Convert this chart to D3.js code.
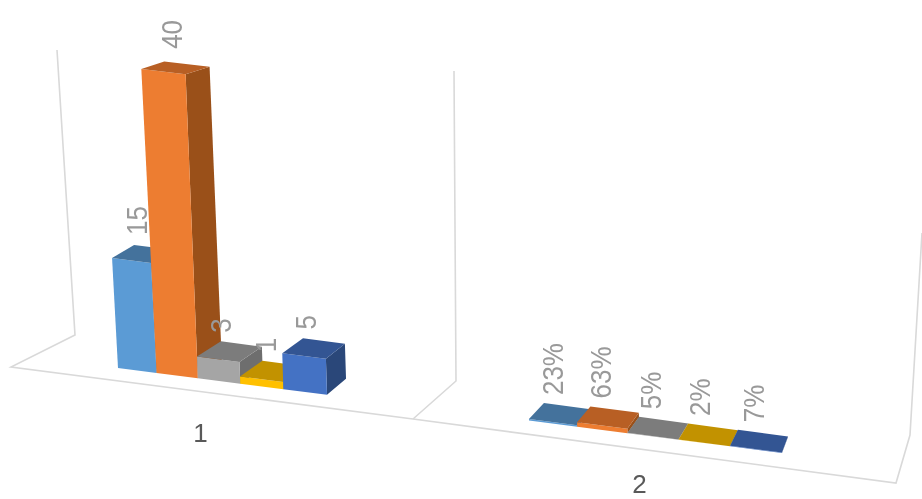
<!DOCTYPE html>
<html>
<head>
<meta charset="utf-8">
<script src="https://cdnjs.cloudflare.com/ajax/libs/d3/7.8.5/d3.min.js"></script>
<style>
html,body{margin:0;padding:0;background:#fff;overflow:hidden}
svg{display:block;filter:blur(0.45px)}
text{font-family:"Liberation Sans",Arial,sans-serif}
</style>
</head>
<body>
<svg id="chart" width="922" height="499"></svg>
<script>
// ---- data ----
const categories = ["1", "2"];
const seriesIndex = [0, 1, 2, 3, 4];
const valuesCat1 = [15, 40, 3, 1, 5];
const valuesCat2 = [0.23, 0.63, 0.05, 0.02, 0.07];
const labelsCat1 = ["15", "40", "3", "1", "5"];
const labelsCat2 = ["23%", "63%", "5%", "2%", "7%"];

// ---- styles ----
const frontColors = ["#5b9bd5", "#ed7d31", "#a5a5a5", "#ffc000", "#4472c4"];
const topColors   = ["#44729c", "#b85f24", "#7c7c7c", "#c29200", "#335593"];
const sideColors  = ["#3a6288", "#9a5019", "#6e6e6e", "#a67e00", "#2a4779"];

// ---- layout: scales of the perspective view ----
const bandRange = { "1": [118, 327], "2": [529, 782] };
const bandExponent = { "1": 1.05, "2": 1.03 };
const xEdge = c => d3.scalePow().exponent(bandExponent[c]).domain([0, seriesIndex.length]).range(bandRange[c]);
const floorY = d3.scaleLinear().domain([118, 782]).range([368, 453]);
const heightOf = d3.scaleLinear().domain([0, 5, 15, 40]).range([0, 36, 110, 304]);
const lean = d3.scaleLinear().domain([118, 158, 199, 283, 327]).range([-0.054, -0.05, -0.04, -0.03, -0.03]);
const depthX = d3.scaleLinear().domain([118, 199, 327, 529, 782]).range([22, 24, 19, 15, 6]);
const depthY = d3.scaleLinear().domain([0, 304]).range([-16, -7.5]);

function project(x, h, d) {
  return [x + lean(x) * h + d * depthX(x), floorY(x) - h + d * depthY(h)];
}

const svg = d3.select("#chart");
const line = d3.line();

// ---- chart walls and floor frame ----
const framePaths = [
  [[57, 50], [75, 335], [11, 367], [413, 419], [896, 483], [910, 435], [922, 233]],
  [[413, 419], [456, 381], [454, 71]]
];
svg.append("g").selectAll("path").data(framePaths).join("path")
  .attr("d", line).attr("fill", "none").attr("stroke", "#d9d9d9").attr("stroke-width", 1.6);

// ---- bars ----
const bars = [];
categories.forEach((c, ci) => {
  const vals = ci === 0 ? valuesCat1 : valuesCat2;
  const labs = ci === 0 ? labelsCat1 : labelsCat2;
  const edge = xEdge(c);
  seriesIndex.forEach(s => bars.push({
    cat: c, s, value: vals[s], label: labs[s],
    x0: edge(s), x1: edge(s + 1)
  }));
});

const barG = svg.append("g").selectAll("g").data(bars).join("g");
barG.append("path").attr("fill", d => sideColors[d.s]).attr("d", d => {
  const h = heightOf(d.value);
  return line([project(d.x1, 0, 0), project(d.x1, 0, 1), project(d.x1, h, 1), project(d.x1, h, 0)]) + "Z";
});
barG.append("path").attr("fill", d => frontColors[d.s]).attr("d", d => {
  const h = heightOf(d.value);
  return line([project(d.x0, 0, 0), project(d.x1, 0, 0), project(d.x1, h, 0), project(d.x0, h, 0)]) + "Z";
});
barG.append("path").attr("fill", d => topColors[d.s]).attr("d", d => {
  const h = heightOf(d.value);
  return line([project(d.x0, h, 0), project(d.x1, h, 0), project(d.x1, h, 1), project(d.x0, h, 1)]) + "Z";
});

// ---- value labels, rotated, starting above the bar top ----
const labelNudge = { "1": [-6, -3, -9, -7, -8], "2": [-7, -8, -7, -9, -6] };
svg.append("g").selectAll("text").data(bars).join("text")
  .attr("transform", d => {
    const h = heightOf(d.value);
    const xm = (d.x0 + d.x1) / 2;
    const [px, py] = project(xm, h, 0.5);
    return `translate(${px + labelNudge[d.cat][d.s]},${py - 19}) rotate(-90) scale(1,1.12)`;
  })
  .attr("dy", "0.35em")
  .attr("text-anchor", "start")
  .attr("font-size", 26)
  .attr("fill", "#999999")
  .text(d => d.label);

// ---- category labels ----
svg.append("g").selectAll("text").data(categories).join("text")
  .attr("x", c => (bandRange[c][0] + bandRange[c][1]) / 2 - (c === "1" ? 22 : 16))
  .attr("y", c => floorY((bandRange[c][0] + bandRange[c][1]) / 2) + (c === "1" ? 61 : 56))
  .attr("text-anchor", "middle")
  .attr("font-size", 26)
  .attr("fill", "#595959")
  .text(c => c);
</script>
</body>
</html>
